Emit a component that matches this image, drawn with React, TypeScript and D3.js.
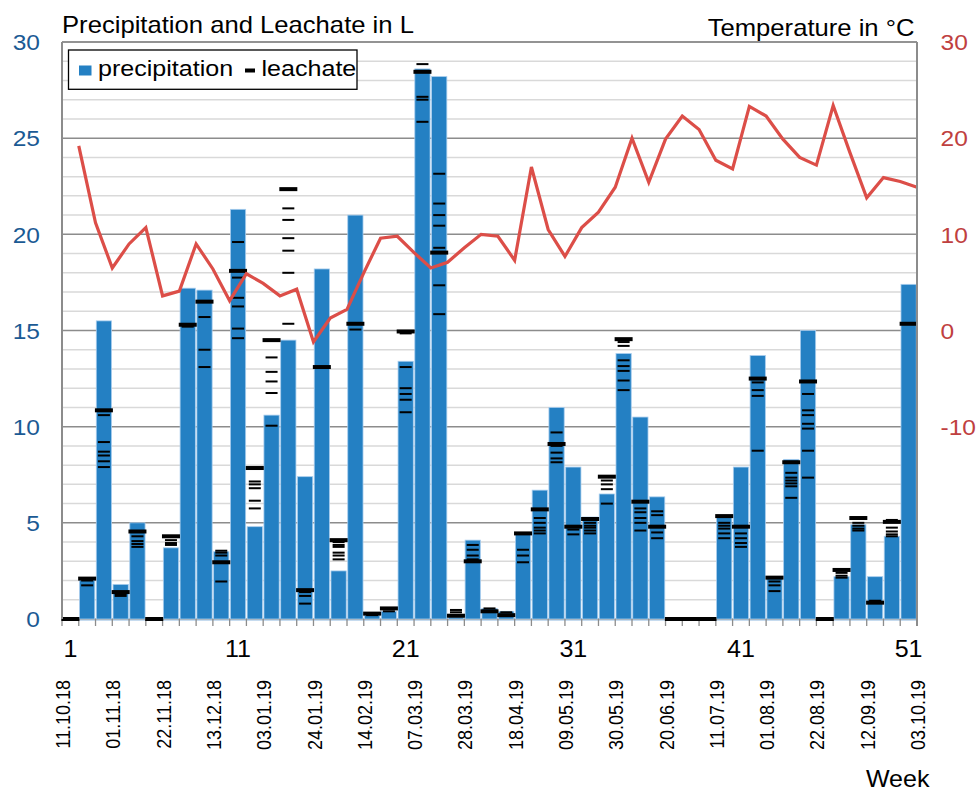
import React, { useEffect } from 'react';
import * as d3 from 'd3';

// ---------- data ----------
const weeks: number[] = Array.from({ length: 51 }, (_, i) => i + 1);

const precipitation: number[] = [
  0, 2.0, 15.5, 1.8, 5.0, 0, 3.7, 17.2, 17.1, 3.5,
  21.3, 4.8, 10.6, 14.5, 7.4, 18.2, 2.5, 21.0, 0.2, 0.4,
  13.4, 28.6, 28.2, 0.1, 4.1, 0.55, 0.4, 4.4, 6.7, 11.0,
  7.9, 5.3, 6.5, 13.8, 10.5, 6.35, 0, 0, 0, 5.4,
  7.9, 13.7, 2.2, 8.3, 15.0, 0, 2.2, 4.9, 2.2, 4.3,
  17.4,
];

const temperature: number[] = [
  19.2, 11.2, 6.5, 9.0, 10.7, 3.6, 4.1, 9.0, 6.4, 3.1,
  5.9, 4.9, 3.6, 4.3, -1.2, 1.3, 2.2, 6.0, 9.6, 9.8,
  8.1, 6.5, 7.1, 8.6, 10.0, 9.8, 7.3, 17.0, 10.5, 7.7,
  10.7, 12.3, 14.9, 20.0, 15.4, 19.9, 22.3, 20.9, 17.7, 16.8,
  23.3, 22.3, 19.9, 18.0, 17.2, 23.4, 18.5, 13.8, 15.9, 15.5,
  14.9,
];

// first value of each week = main (thick) marker, others = thin markers
const leachate: number[][] = [
  [0], [2.1, 2.0, 1.75], [10.85, 10.6, 9.2, 8.7, 8.5, 8.2, 7.9], [1.4, 1.3, 1.2],
  [4.55, 4.3, 4.05, 3.9, 3.75], [0], [4.3, 4.1, 3.95, 3.85], [15.3, 15.2],
  [16.5, 15.7, 14.0, 13.1], [2.95, 3.55, 3.45, 3.3, 1.95],
  [18.1, 19.6, 17.75, 16.7, 16.25, 15.1, 14.6], [7.85, 7.15, 7.0, 6.8, 6.15, 5.75],
  [14.5, 13.6, 12.85, 12.35, 11.75, 10.05], [22.35, 21.35, 20.75, 19.8, 19.15, 18.0, 15.35],
  [1.5, 1.4, 1.2, 0.8], [13.1], [4.1, 4.0, 3.85, 3.75, 3.45, 3.3, 3.1], [15.35, 15.05],
  [0.28, 0.2], [0.55, 0.4], [14.95, 14.85, 13.1, 12.0, 11.7, 11.4, 10.75],
  [28.45, 28.85, 27.15, 27.0, 25.85], [19.05, 23.15, 21.6, 21.0, 20.45, 19.3, 17.35, 15.85],
  [0.17, 0.47, 0.35], [3.0, 3.85, 3.6, 3.3, 3.1], [0.4, 0.55], [0.2, 0.35],
  [4.45, 3.6, 3.3, 2.95], [5.7, 5.25, 5.0, 4.75, 4.6, 4.45], [9.1, 9.7, 9.0, 8.65, 8.35, 8.15],
  [4.8, 4.65, 4.4], [5.2, 5.0, 4.85, 4.75, 4.6, 4.45], [7.4, 7.2, 7.0, 6.75, 6.0],
  [14.55, 14.4, 14.2, 13.45, 13.15, 12.9, 12.4, 11.9], [6.1, 5.75, 5.55, 5.25, 5.0, 4.6],
  [4.8, 5.6, 5.4, 4.5, 4.2], [0], [0], [0], [5.35, 5.0, 4.85, 4.7, 4.45, 4.2],
  [4.8, 4.45, 4.2, 3.95, 3.75], [12.5, 12.3, 11.9, 11.6, 8.75], [2.15, 1.95, 1.75, 1.45],
  [8.15, 7.6, 7.35, 7.2, 7.05, 6.9, 6.3], [12.35, 11.7, 10.85, 10.6, 10.15, 9.9, 8.75, 7.35],
  [0], [2.55, 2.4, 2.25, 2.15], [5.25, 5.0, 4.85, 4.7, 4.6], [0.85, 0.95],
  [5.05, 5.15, 4.75, 4.55, 4.4, 4.3], [15.35],
];

const dateLabels: string[] = [
  '11.10.18', '01.11.18', '22.11.18', '13.12.18', '03.01.19', '24.01.19',
  '14.02.19', '07.03.19', '28.03.19', '18.04.19', '09.05.19', '30.05.19',
  '20.06.19', '11.07.19', '01.08.19', '22.08.19', '12.09.19', '03.10.19',
];
const weekTickLabels: number[] = [1, 11, 21, 31, 41, 51];
const leftTicks: number[] = [0, 5, 10, 15, 20, 25, 30];
const rightTicks: number[] = [-10, 0, 10, 20, 30];

// ---------- layout ----------
const W = 978, H = 791;
const X0 = 62, X1 = 917, Y0 = 42, Y1 = 619;
const SX = 1.09; // horizontal glyph stretch of the original
const FONT = '"Liberation Sans", Arial, sans-serif';
const BAR = '#2480c3';
const LINE = '#dc4e48';
const LEFTC = '#1b5a94';
const RIGHTC = '#bf4040';

export default function App() {
  useEffect(() => {
    document.body.style.margin = '0';
  }, []);

  const x = d3.scaleBand<number>().domain(weeks).range([X0, X1]).paddingInner(0.09).paddingOuter(0.045);
  const weekX = d3.scaleLinear().domain([0.5, weeks.length + 0.5]).range([X0, X1]);
  const y = d3.scaleLinear().domain([0, 30]).range([Y1, Y0]);
  const yT = d3.scaleLinear().domain([-30, 30]).range([Y1, Y0]);

  const line = d3.line<number>()
    .x((_, i) => weekX(weeks[i] + 0.5))
    .y((t) => yT(t));

  const minor = d3.range(1, 30).filter((v) => v % 5 !== 0);
  const boundaries = d3.range(0, weeks.length + 1).map((k) => weekX(k + 0.5));

  const txt = (
    xp: number, yp: number, s: string, size: number, anchor: string, fill = '#000', extra = '', sx = SX
  ) => (
    <text
      transform={`translate(${xp},${yp}) scale(${sx},1)${extra}`}
      textAnchor={anchor}
      fontSize={size}
      fontFamily={FONT}
      fill={fill}
    >
      {s}
    </text>
  );

  return (
    <svg width={W} height={H} style={{ position: 'absolute', left: 0, top: 0, background: '#fff' }}>
      <rect x={0} y={0} width={W} height={H} fill="#fff" />
      {/* gridlines */}
      {minor.map((v) => (
        <line key={'m' + v} x1={X0} x2={X1} y1={y(v)} y2={y(v)} stroke="#d9d9d9" strokeWidth={1.5} />
      ))}
      {leftTicks.map((v) => (
        <line key={'M' + v} x1={X0} x2={X1} y1={y(v)} y2={y(v)} stroke="#8c8c8c" strokeWidth={1.5} />
      ))}
      {/* bars */}
      {precipitation.map((v, i) =>
        v > 0 ? (
          <rect
            key={'b' + i}
            x={x(weeks[i])!}
            y={y(v)}
            width={x.bandwidth()}
            height={Y1 - y(v)}
            fill={BAR}
            stroke="#a8cdee"
            strokeWidth={0.8}
          />
        ) : null
      )}
      {/* x axis */}
      <line x1={X0} x2={X1} y1={Y1 + 1.5} y2={Y1 + 1.5} stroke="#c6dbef" strokeWidth={1} />
      {boundaries.map((bx, k) => (
        <line key={'t' + k} x1={bx} x2={bx} y1={Y1} y2={Y1 + 7} stroke="#8c8c8c" strokeWidth={1.3} />
      ))}
      {/* leachate markers */}
      {leachate.map((vals, i) =>
        vals.map((v, j) => {
          const cx = weekX(weeks[i]);
          const w = j === 0 ? 18 : 12;
          const h = j === 0 ? 4 : 2;
          return <rect key={'l' + i + '_' + j} x={cx - w / 2} y={y(v) - h / 2} width={w} height={h} fill="#000" />;
        })
      )}
      {/* temperature line */}
      <path d={line(temperature)!} fill="none" stroke={LINE} strokeWidth={3.2} strokeLinejoin="miter" />
      {/* plot border */}
      <line x1={X0} x2={X1} y1={Y0} y2={Y0} stroke="#8c8c8c" strokeWidth={1.5} />
      <line x1={X0} x2={X0} y1={Y0} y2={Y1} stroke="#8c8c8c" strokeWidth={2} />
      <line x1={X1} x2={X1} y1={Y0} y2={Y1 + 7} stroke="#8c8c8c" strokeWidth={2} />
      {/* left ticks */}
      {leftTicks.map((v) => <g key={'lt' + v}>{txt(40, y(v) + 8.2, String(v), 22.5, 'end', LEFTC)}</g>)}
      {/* right ticks */}
      {rightTicks.map((v) => <g key={'rt' + v}>{txt(940.5, yT(v) + 8.2, String(v), 22.5, 'start', RIGHTC)}</g>)}
      {/* titles */}
      {txt(62, 33.3, 'Precipitation and  Leachate in L', 23, 'start', '#000', '', 1.115)}
      {txt(914.5, 35.7, 'Temperature  in °C', 23, 'end', '#000', '', 1.115)}
      {/* week tick labels */}
      {weekTickLabels.map((w) => <g key={'wl' + w}>{txt(weekX(w), 657.3, String(w), 23, 'middle')}</g>)}
      {/* date labels */}
      {dateLabels.map((d, j) => (
        <g key={'d' + j}>{txt(weekX(1 + 3 * j) - 0.3, 680, d, 18, 'end', '#000', ' rotate(-90)')}</g>
      ))}
      {txt(929.5, 786.5, 'Week', 23, 'end')}
      {/* legend */}
      <rect x={68.5} y={50} width={288.5} height={39.3} fill="#fff" stroke="#000" strokeWidth={1.3} />
      <rect x={79} y={65.5} width={12.5} height={10} fill={BAR} />
      {txt(98, 76.3, 'precipitation', 22.5, 'start', '#000', '', 1.115)}
      <rect x={245} y={68.5} width={10} height={4} fill="#000" />
      {txt(261.5, 76.3, 'leachate', 22.5, 'start', '#000', '', 1.115)}
    </svg>
  );
}
